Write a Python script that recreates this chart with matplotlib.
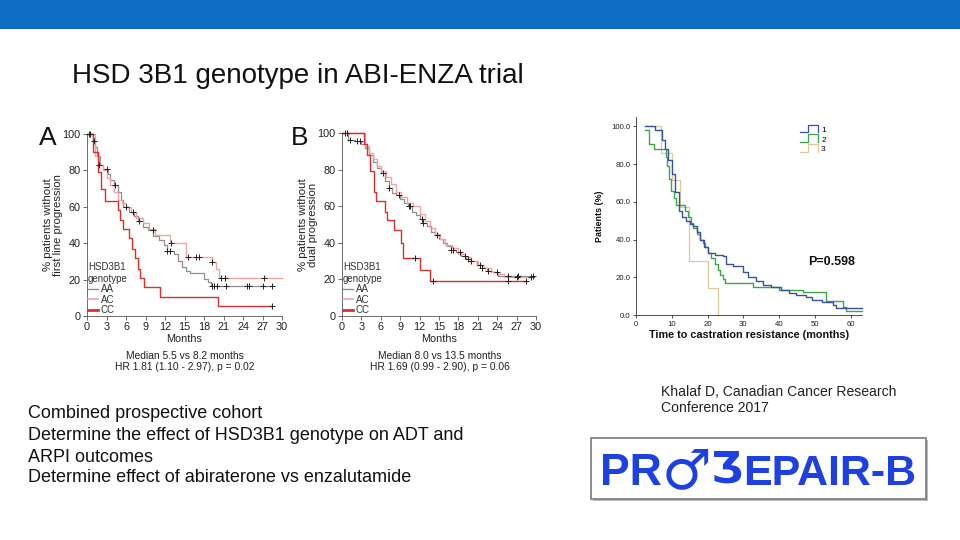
import numpy as np
import matplotlib
matplotlib.use("Agg")
import matplotlib.pyplot as plt
from matplotlib.patches import Rectangle
from matplotlib.lines import Line2D
from matplotlib.legend_handler import HandlerBase

plt.rcParams['font.family'] = ['Liberation Sans', 'DejaVu Sans']

# ---------------- data ----------------
# Panel A: first line progression
a_aa_t = [0, 0.9, 1.2, 1.6, 2.0, 2.5, 3.2, 3.6, 4.2, 4.8, 5.2, 5.6, 6.4, 7.2, 7.8, 8.6, 9.4, 10.2, 11.0, 11.8, 12.3, 13.4, 14.0, 14.6, 15.2, 15.8, 18.0, 18.6, 19.0]
a_aa_s = [100, 96, 93, 88, 83, 81, 78, 75, 72, 68, 64, 60, 57, 55, 52, 49, 47, 44, 42, 39, 35.7, 34, 30, 27, 25, 23.4, 20.5, 18.5, 16.7]
a_aa_end = 28.5
a_aa_cens = [0.3, 1.0, 3.1, 4.3, 6.0, 7.0, 8.0, 10.1, 12.3, 12.7, 19.3, 19.6, 20.0, 21.4, 24.6, 24.9, 27.1, 28.5]

a_ac_t = [0, 1.3, 1.8, 2.4, 3.0, 3.6, 4.2, 4.8, 5.4, 6.0, 6.8, 7.6, 8.6, 9.6, 10.5, 12.7, 15.2, 19.2, 19.8, 20.3]
a_ac_s = [100, 88, 83, 80, 76, 72, 68, 64, 62, 60, 57, 54, 51, 48, 44.5, 40.3, 32.5, 29.5, 26, 20.7]
a_ac_end = 30
a_ac_cens = [0.5, 1.9, 12.9, 15.5, 16.8, 17.3, 19.3, 20.6, 21.3, 27.2]

a_cc_t = [0, 0.9, 1.7, 2.1, 2.8, 4.8, 5.1, 5.5, 6.5, 6.9, 7.4, 7.8, 8.2, 8.7, 11.3, 20.2]
a_cc_s = [100, 90, 79, 70, 63, 58, 53, 48, 43, 37, 32, 26, 21, 16, 10.7, 5.4]
a_cc_end = 28.5
a_cc_cens = [28.5]

# Panel B: dual progression
b_aa_t = [0, 1.0, 2.0, 3.0, 3.6, 4.2, 4.8, 5.4, 6.0, 6.6, 7.2, 7.8, 8.4, 9.0, 9.6, 10.2, 10.8, 11.4, 12.0, 12.6, 13.2, 13.8, 14.4, 15.0, 15.6, 16.2, 16.8, 17.6, 18.4, 19.2, 20.0, 20.8, 21.6, 22.4, 23.2, 24.2]
b_aa_s = [100, 96, 95.5, 94, 92, 88, 84, 81, 78, 74, 70, 67, 66, 64, 62, 60, 57, 55, 53, 51, 49, 46, 44, 42, 40, 38, 36, 35, 33, 31, 30, 28, 26, 24.5, 24, 22]
b_aa_end = 29.7
b_aa_cens = [0.4, 1.3, 2.3, 2.8, 6.4, 7.3, 8.8, 10.3, 10.5, 12.4, 12.6, 14.7, 16.8, 17.2, 18.2, 19.0, 19.5, 20.0, 21.3, 21.6, 22.5, 23.9, 25.7, 27.2, 29.5]

b_ac_t = [0, 3.5, 4.2, 4.8, 5.4, 6.0, 6.8, 7.6, 8.4, 9.2, 10.0, 11.0, 12.0, 12.8, 13.6, 14.4, 15.2, 16.0, 17.0, 18.0, 19.0, 20.0, 21.0, 22.0, 23.0, 24.0, 25.0]
b_ac_s = [100, 93, 89, 86, 82, 79, 76, 72, 68, 65, 62, 60, 56, 52, 48, 45, 42, 39, 37, 34, 32, 30, 28, 26, 24, 23, 21.5]
b_ac_end = 29.7
b_ac_cens = [0.8, 27.0, 29.3]

b_cc_t = [0, 3.4, 3.9, 4.4, 5.0, 5.3, 6.6, 7.0, 8.0, 9.2, 9.5, 12.1, 13.6]
b_cc_s = [100, 94, 88, 79, 68, 63, 57, 52.5, 47, 40, 31.6, 25, 19]
b_cc_end = 28.5
b_cc_cens = [11.3, 14.0, 25.7, 28.5]

# Panel C: time to castration resistance
c1_t = [2.6, 5.4, 7.2, 8, 9, 10, 11, 12, 13, 14, 15, 16, 17, 18, 19, 20, 22, 24.4, 25.3, 27.1, 29.9, 31.3, 33.6, 35.5, 37.8, 40.5, 42.8, 44.7, 47.5, 49.3, 52.1, 55.0, 56.0]
c1_s = [100, 98, 93, 88, 82, 75, 65, 55, 52, 50, 48, 47, 44, 40, 36, 33, 32, 31.5, 27, 26, 23, 20.4, 18, 16, 15, 13.3, 11.5, 10.7, 9.8, 8, 6.7, 5.3, 3.5]
c1_end = 63.2

c2_t = [2.5, 3.5, 5, 8.3, 8.8, 9.3, 9.8, 10.5, 11.3, 13.8, 14.5, 15.3, 16, 17, 17.8, 18.6, 19.4, 20.2, 21, 22, 22.8, 23.6, 24.3, 25, 32.8, 40, 46.7, 53, 57.9, 58.8]
c2_s = [98, 90.6, 88, 84, 79, 72, 66, 62, 58.5, 55, 52, 49, 46, 43, 40, 38, 36, 33, 30, 27, 24, 21, 19, 17, 15, 13.3, 12, 7.5, 4.4, 2.2]
c2_end = 63.2

c3_t = [2.5, 7, 10, 12.2, 14.9, 20, 23]
c3_s = [100, 85.7, 71.4, 57.1, 28.6, 14.3, 0]
c3_end = 23

a_xticks = list(range(0, 31, 3))
a_yticks = [0, 20, 40, 60, 80, 100]
c_xticks = [0, 10, 20, 30, 40, 50, 60]
c_yticks = [0, 20, 40, 60, 80, 100]
genotypes = ['AA', 'AC', 'CC']
groups_c = ['1', '2', '3']

# ---------------- helpers ----------------
W, H = 960, 540
fig = plt.figure(figsize=(9.6, 5.4), dpi=100)
fig.patch.set_facecolor('white')


def fx(x):
    return x / W


def fy(y):
    return 1 - y / H


def add_ax(l, t, r, b):
    return fig.add_axes([fx(l), fy(b), (r - l) / W, (b - t) / H])


def km(ax, t, s, end, color, lw, cens=None, zorder=2):
    x = list(t) + [end]
    y = list(s) + [s[-1]]
    ax.step(x, y, where='post', color=color, lw=lw, clip_on=False, zorder=zorder)
    if cens:
        ta = np.array(t)
        sa = np.array(s)
        idx = np.searchsorted(ta, np.array(cens), side='right') - 1
        ax.plot(cens, sa[idx], ls='none', marker='+', ms=4.5, mew=0.7,
                color='#222222', clip_on=False, zorder=3)


col_aa = '#8f8f8f'
col_ac = '#f2a3a3'
col_cc = '#d8302e'


def style_ab(ax, ylabel_lines):
    ax.set_xlim(0, 30)
    ax.set_ylim(0, 100)
    for sp in ['top', 'right']:
        ax.spines[sp].set_visible(False)
    for sp in ['left', 'bottom']:
        ax.spines[sp].set_linewidth(0.6)
        ax.spines[sp].set_color('#555555')
    ax.set_xticks(a_xticks)
    ax.set_yticks(a_yticks)
    ax.tick_params(direction='out', length=3, width=0.6, colors='#555555',
                   labelsize=7.8, labelcolor='#222222', pad=1.5)
    ax.set_xlabel('Months', fontsize=7.8, labelpad=1.5, color='#222222')
    ax.set_ylabel(ylabel_lines, fontsize=8.2, linespacing=1.0, color='#222222')
    ax.yaxis.set_label_coords(-0.125, 0.5)
    handles = [Line2D([], [], color=col_aa, lw=1.0),
               Line2D([], [], color=col_ac, lw=1.2),
               Line2D([], [], color=col_cc, lw=2.0)]
    leg = ax.legend(handles, genotypes, title='HSD3B1\ngenotype', loc='lower left',
                    bbox_to_anchor=(0.0, 0.0), frameon=False, fontsize=7,
                    title_fontsize=7, handlelength=1.0, handletextpad=0.3,
                    labelspacing=0.05, borderaxespad=0.0, borderpad=0.1)
    leg._legend_box.align = 'left'
    leg.get_title().set_color('#333333')
    for txt in leg.get_texts():
        txt.set_color('#333333')


# ---------------- slide decorations ----------------
fig.patches.append(Rectangle((0, fy(28)), 1, 28 / H, transform=fig.transFigure,
                             facecolor='#0E6EC4', edgecolor='none', zorder=0))
fig.patches.append(Rectangle((0, fy(29)), 1, 1.5 / H, transform=fig.transFigure,
                             facecolor='#1a63a8', edgecolor='none', zorder=0))

fig.text(fx(72), fy(76), 'HSD 3B1 genotype in ABI-ENZA trial', fontsize=20,
         ha='left', va='center', color='#111111')

# ---------------- Panel A ----------------
axA = add_ax(87, 134, 282, 316)
km(axA, a_aa_t, a_aa_s, a_aa_end, col_aa, 0.9, a_aa_cens)
km(axA, a_ac_t, a_ac_s, a_ac_end, col_ac, 1.0, a_ac_cens)
km(axA, a_cc_t, a_cc_s, a_cc_end, col_cc, 1.0, a_cc_cens)
style_ab(axA, '% patients without\nfirst line progression')
fig.text(fx(48), fy(138), 'A', fontsize=19, ha='center', va='center', color='#111111')
fig.text(fx(185), fy(356), 'Median 5.5 vs 8.2 months', fontsize=7.4, ha='center', va='center', color='#222222')
fig.text(fx(185), fy(367), 'HR 1.81 (1.10 - 2.97), p = 0.02', fontsize=7.4, ha='center', va='center', color='#222222')

# ---------------- Panel B ----------------
axB = add_ax(342, 133, 536, 316)
km(axB, b_aa_t, b_aa_s, b_aa_end, col_aa, 0.9, b_aa_cens)
km(axB, b_ac_t, b_ac_s, b_ac_end, col_ac, 1.0, b_ac_cens)
km(axB, b_cc_t, b_cc_s, b_cc_end, col_cc, 1.0, b_cc_cens)
style_ab(axB, '% patients without\ndual progression')
fig.text(fx(300), fy(138), 'B', fontsize=19, ha='center', va='center', color='#111111')
fig.text(fx(440), fy(356), 'Median 8.0 vs 13.5 months', fontsize=7.4, ha='center', va='center', color='#222222')
fig.text(fx(440), fy(367), 'HR 1.69 (0.99 - 2.90), p = 0.06', fontsize=7.4, ha='center', va='center', color='#222222')

# ---------------- Panel C ----------------
axC = add_ax(636, 117, 862, 315)
col1, col2, col3 = '#3d4f9f', '#3aa64a', '#d9c99c'
km(axC, c3_t, c3_s, c3_end, col3, 0.9)
km(axC, c2_t, c2_s, c2_end, col2, 1.0)
km(axC, c1_t, c1_s, c1_end, col1, 1.0)
axC.set_xlim(0, 63.2)
axC.set_ylim(0, 105)
for sp in ['top', 'right']:
    axC.spines[sp].set_visible(False)
for sp in ['left', 'bottom']:
    axC.spines[sp].set_linewidth(0.6)
    axC.spines[sp].set_color('#333333')
axC.set_xticks(c_xticks)
axC.set_yticks(c_yticks)
axC.set_yticklabels([f'{v:.1f}' for v in c_yticks])
axC.tick_params(direction='out', length=2.5, width=0.6, colors='#333333',
                labelsize=5.6, labelcolor='#222222', pad=1.5)
axC.set_xlabel('Time to castration resistance (months)', fontsize=7.8,
               fontweight='bold', labelpad=2, color='#111111')
axC.set_ylabel('Patients (%)', fontsize=6.4, fontweight='bold', color='#111111')
axC.yaxis.set_label_coords(-0.14, 0.5)
axC.text(0.865, 0.27, 'P=0.598', transform=axC.transAxes, fontsize=9,
         fontweight='bold', ha='center', va='center', color='#111111')


class StepHandler(HandlerBase):
    def create_artists(self, legend, orig_handle, xdescent, ydescent, width,
                       height, fontsize, trans):
        x0 = -xdescent
        y0 = -ydescent
        xs = [x0, x0 + 0.45 * width, x0 + 0.45 * width, x0 + width, x0 + width]
        ys = [y0 + 0.05 * height, y0 + 0.05 * height, y0 + 1.15 * height,
              y0 + 1.15 * height, y0 + 0.05 * height]
        ln = Line2D(xs, ys, color=orig_handle.get_color(), lw=0.9, transform=trans)
        return [ln]


hC = [Line2D([], [], color=col1), Line2D([], [], color=col2), Line2D([], [], color=col3)]
axC.legend(hC, groups_c, loc='upper left', bbox_to_anchor=(0.725, 0.955),
           frameon=False, fontsize=6, handlelength=2.2, handleheight=0.9,
           handletextpad=0.35, labelspacing=0.15, borderaxespad=0, borderpad=0,
           handler_map={Line2D: StepHandler()})

# ---------------- bottom texts ----------------
left_lines = ['Combined prospective cohort',
              'Determine the effect of HSD3B1 genotype on ADT and',
              'ARPI outcomes',
              'Determine effect of abiraterone vs enzalutamide']
for y, s in zip([413, 436, 457, 478], left_lines):
    fig.text(fx(28), fy(y), s, fontsize=13, ha='left', va='center', color='#111111')

fig.text(fx(661), fy(392), 'Khalaf D, Canadian Cancer Research', fontsize=10.1,
         ha='left', va='center', color='#222222')
fig.text(fx(661), fy(408), 'Conference 2017', fontsize=10.1,
         ha='left', va='center', color='#222222')

# logo
fig.patches.append(Rectangle((fx(593), fy(501)), 335 / W, 61 / H, transform=fig.transFigure,
                             facecolor='#bdbdbd', edgecolor='none', zorder=1))
fig.patches.append(Rectangle((fx(591), fy(499)), 335 / W, 61 / H, transform=fig.transFigure,
                             facecolor='white', edgecolor='#7a7a7a', lw=1.2, zorder=2))

renderer = fig.canvas.get_renderer()
logo_blue = '#1e40e0'
logo_pieces = [('PR', 32, ['Liberation Sans'], 0, 0),
               ('\u2642', 40, ['DejaVu Sans'], 3, -1),
               ('\u01b7', 30, ['DejaVu Sans'], -3, 0),
               ('EPAIR-B', 31, ['Liberation Sans'], 0, 0)]
xcur = 600
for s, fs, fam, dy, gap in logo_pieces:
    t = fig.text(fx(xcur), fy(485 + dy), s, fontsize=fs, fontweight='bold', family=fam,
                 ha='left', va='baseline', color=logo_blue, zorder=3)
    bb = t.get_window_extent(renderer)
    xcur = bb.x1 + gap

fig.savefig('out.png', dpi=100)
